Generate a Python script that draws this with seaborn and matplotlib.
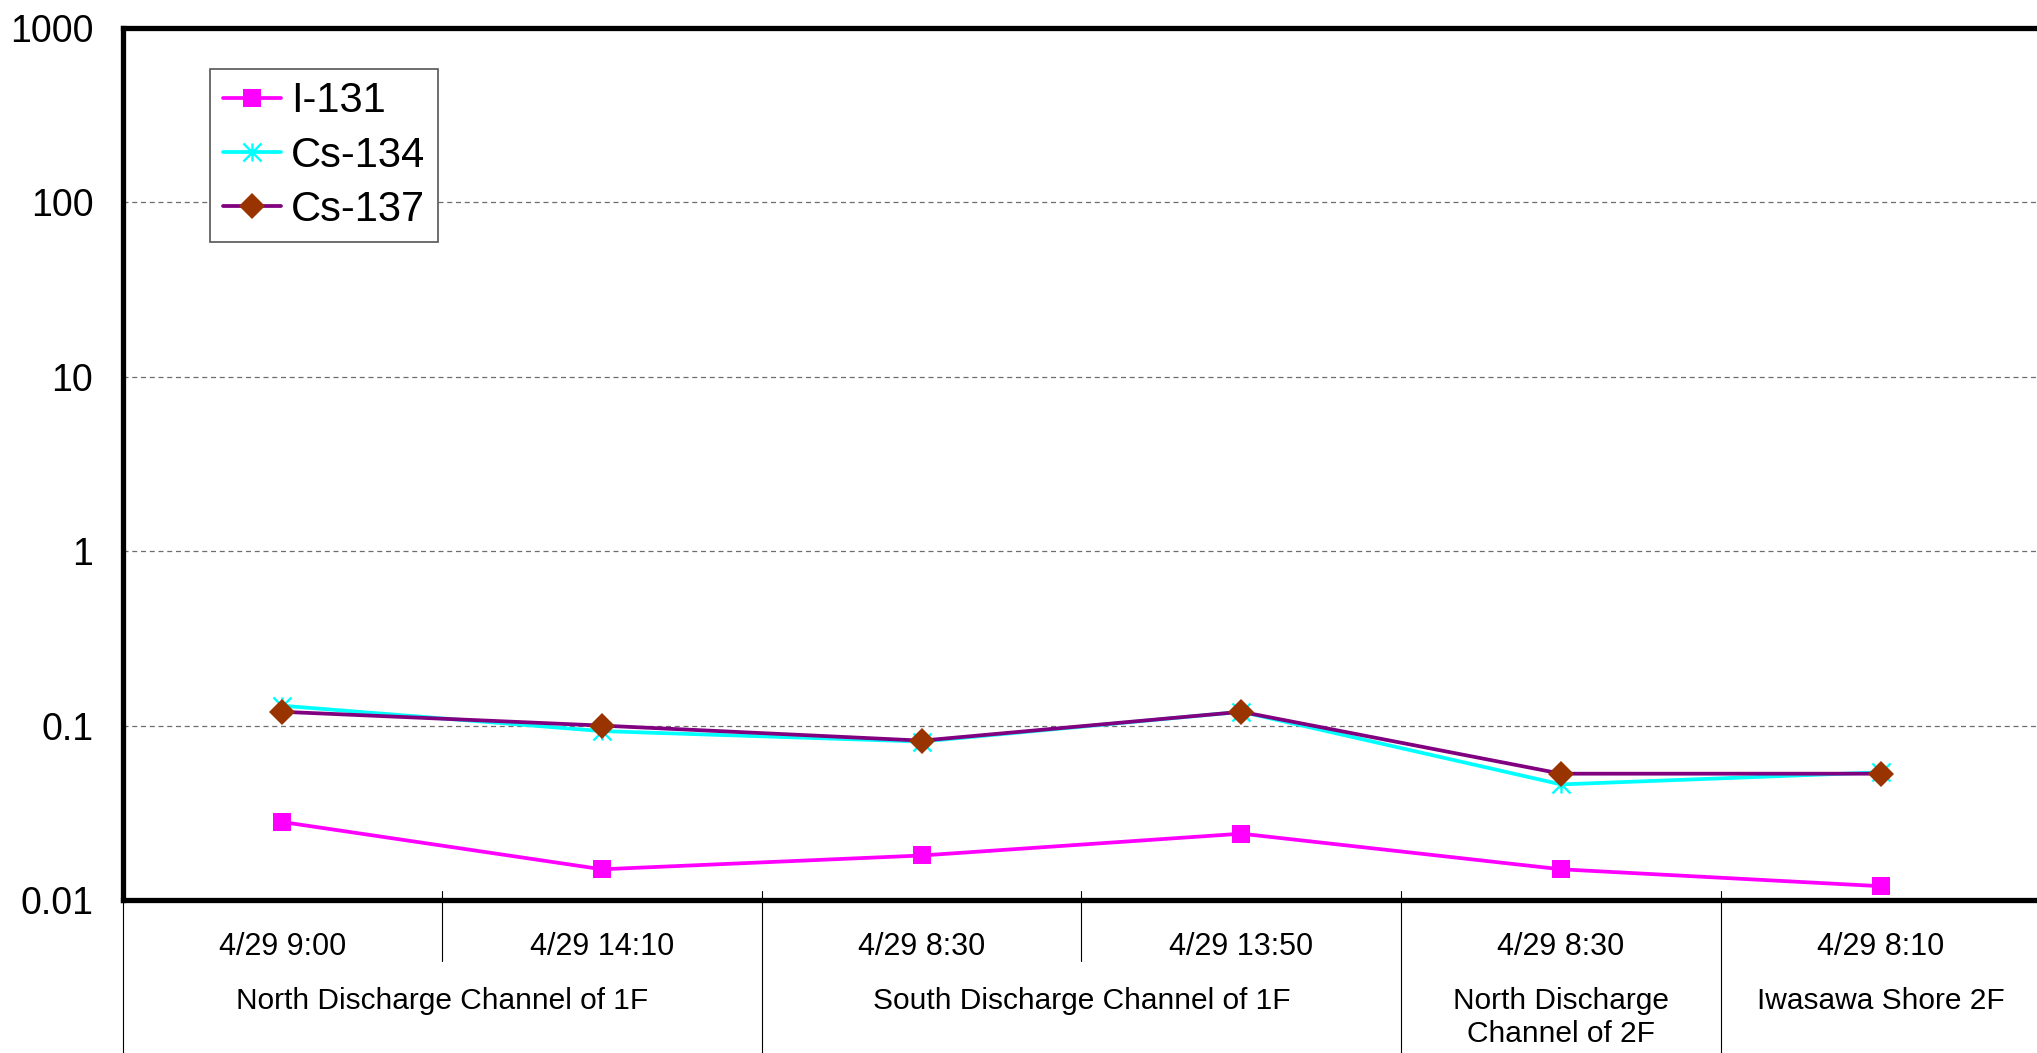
import numpy as np
import pandas as pd
import matplotlib
matplotlib.use("Agg")
import matplotlib.pyplot as plt
import matplotlib.transforms as mtransforms
from matplotlib.path import Path
import seaborn as sns

# sampling times (one per point) and the sampling locations they belong to
sample_times = ["4/29 9:00", "4/29 14:10", "4/29 8:30", "4/29 13:50", "4/29 8:30", "4/29 8:10"]
locations = [
    "North Discharge Channel of 1F",
    "South Discharge Channel of 1F",
    "North Discharge\nChannel of 2F",
    "Iwasawa Shore 2F",
]
samples_per_location = [2, 2, 1, 1]

nuclides = ["I-131", "Cs-134", "Cs-137"]
i131 = [0.028, 0.015, 0.018, 0.024, 0.015, 0.012]
cs134 = [0.13, 0.093, 0.081, 0.12, 0.046, 0.054]
cs137 = [0.12, 0.10, 0.082, 0.12, 0.053, 0.053]

y_ticks = [0.01, 0.1, 1, 10, 100, 1000]
y_tick_labels = ["0.01", "0.1", "1", "10", "100", "1000"]

# Excel style asterisk: vertical bar plus an X
ASTERISK = Path(
    [(0, -1), (0, 1), (-1, -1), (1, 1), (-1, 1), (1, -1)],
    [Path.MOVETO, Path.LINETO, Path.MOVETO, Path.LINETO, Path.MOVETO, Path.LINETO],
)

STYLES = {
    "I-131": dict(color="#FF00FF", marker="s", markersize=13.5,
                  markerfacecolor="#FF00FF", markeredgecolor="#FF00FF", markeredgewidth=0),
    "Cs-134": dict(color="#00FFFF", marker=ASTERISK, markersize=13,
                   markerfacecolor="none", markeredgecolor="#00FFFF", markeredgewidth=1.7),
    "Cs-137": dict(color="#800080", marker="D", markersize=13,
                   markerfacecolor="#993300", markeredgecolor="#993300", markeredgewidth=0),
}


def build_frame() -> pd.DataFrame:
    pos = np.arange(len(sample_times))
    frames = []
    for name, vals in zip(nuclides, [i131, cs134, cs137]):
        frames.append(pd.DataFrame({"pos": pos, "value": vals, "nuclide": name}))
    return pd.concat(frames, ignore_index=True)


def main() -> None:
    df = build_frame()

    sns.set_style("white")
    plt.rcParams["font.family"] = ["Liberation Sans", "DejaVu Sans"]
    plt.rcParams["text.color"] = "black"
    plt.rcParams["xtick.color"] = "black"
    plt.rcParams["ytick.color"] = "black"

    W, H = 2037, 1053
    fig = plt.figure(figsize=(W / 100, H / 100), dpi=100)
    ax = fig.add_axes([122.5 / W, 153 / H, 1918 / W, 872 / H])

    for name in nuclides:
        sns.lineplot(data=df[df["nuclide"] == name], x="pos", y="value", ax=ax,
                     label=name, linewidth=2.7, sort=False, **STYLES[name])

    ax.set_yscale("log")
    ax.set_ylim(0.01, 1000)
    ax.set_yticks(y_ticks)
    ax.set_yticklabels(y_tick_labels)
    ax.yaxis.set_minor_locator(matplotlib.ticker.NullLocator())
    ax.tick_params(axis="y", length=0, pad=21, labelsize=27)

    ax.set_xlim(-0.5, len(sample_times) - 0.5)
    ax.set_xticks(np.arange(len(sample_times)))
    ax.set_xticklabels(sample_times)
    ax.tick_params(axis="x", length=0, pad=23, labelsize=22)
    ax.set_xlabel("")
    ax.set_ylabel("")

    ax.yaxis.grid(True, linestyle=(0, (4, 3)), color="#6e6e6e", linewidth=0.9)
    ax.xaxis.grid(False)
    for side in ["top", "left", "bottom"]:
        ax.spines[side].set_linewidth(3.8)
        ax.spines[side].set_color("black")
    ax.spines["right"].set_visible(False)

    # multi-level category axis: separators and location labels
    trans = mtransforms.blended_transform_factory(ax.transData, ax.transAxes)
    group_edges = np.concatenate([[0], np.cumsum(samples_per_location)]) - 0.5
    for b in np.arange(len(sample_times) + 1) - 0.5:
        y_end = -0.2 if b in group_edges else -0.07
        ax.plot([b, b], [0.0105, y_end], transform=trans, color="black",
                linewidth=0.8, clip_on=False)
    starts = np.concatenate([[0], np.cumsum(samples_per_location)[:-1]])
    for loc, s, n in zip(locations, starts, samples_per_location):
        ax.text(s + (n - 1) / 2, -0.1, loc, transform=trans, ha="center", va="top",
                fontsize=21.5, linespacing=1.2)

    handles, labels = ax.get_legend_handles_labels()
    leg = ax.legend(handles, labels, loc="upper left",
                    bbox_to_anchor=(210 / W, 1 - 69 / H), bbox_transform=fig.transFigure,
                    fontsize=30, frameon=True, fancybox=False, edgecolor="#555555",
                    framealpha=1, borderpad=0.3, labelspacing=0.34, handlelength=1.4,
                    handletextpad=0.25, borderaxespad=0)
    leg.get_frame().set_linewidth(1.2)

    fig.savefig("out.png", dpi=100)


if __name__ == "__main__":
    main()
